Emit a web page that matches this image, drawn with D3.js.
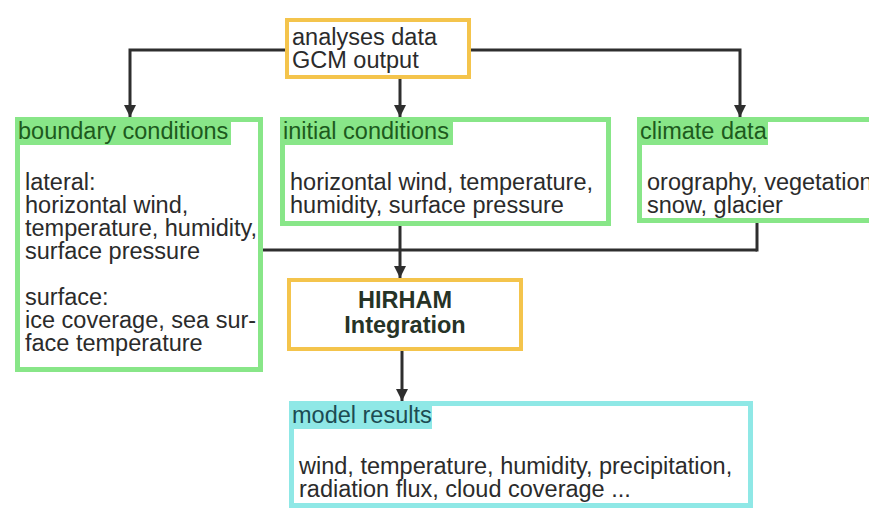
<!DOCTYPE html>
<html>
<head>
<meta charset="utf-8">
<script src="https://cdn.jsdelivr.net/npm/d3@7"></script>
<style>
  html, body { margin: 0; padding: 0; background: #fff; }
  svg { display: block; font-family: "Liberation Sans", Arial, sans-serif; }
</style>
</head>
<body>
<div id="chart"></div>
<script>
// diagram content
const sourceLines = ["analyses data", "GCM output"];
const coreLines = ["HIRHAM", "Integration"];
const panelIds = ["boundary", "initial", "climate", "results"];
const panelTitles = ["boundary conditions", "initial conditions", "climate data", "model results"];
const panelBodies = [
  ["lateral:", "horizontal wind,", "temperature, humidity,", "surface pressure", "", "surface:", "ice coverage, sea sur-", "face temperature"],
  ["horizontal wind, temperature,", "humidity, surface pressure"],
  ["orography, vegetation", "snow, glacier"],
  ["wind, temperature, humidity, precipitation,", "radiation flux, cloud coverage ..."]
];
// which box feeds which (last flag: ends in an arrowhead)
const links = [
  ["source", "boundary", true],
  ["source", "initial", true],
  ["source", "climate", true],
  ["initial", "hirham", true],
  ["boundary", "hirham", false],
  ["climate", "hirham", false],
  ["hirham", "results", true]
];

// layout (outer edges of each box)
const layout = {
  source:   { x0: 285, x1: 471, y0: 18,  y1: 79,  kind: "core" },
  boundary: { x0: 15,  x1: 263, y0: 117, y1: 372, kind: "input", band: 231 },
  initial:  { x0: 280, x1: 611, y0: 117, y1: 226, kind: "input", band: 453 },
  climate:  { x0: 637, x1: 890, y0: 117, y1: 223, kind: "input", band: 768 },
  hirham:   { x0: 287, x1: 523, y0: 278, y1: 351, kind: "core" },
  results:  { x0: 289, x1: 753, y0: 401, y1: 508, kind: "output", band: 432 }
};
const styles = {
  core:   { stroke: "#f4c44c", sw: 4, head: null },
  input:  { stroke: "#88e688", sw: 5, head: "#1d5a1d" },
  output: { stroke: "#8fe8e6", sw: 5, head: "#1c4b52" }
};

const W = 869, H = 509, fs = 23.5, lh = 23, bandH = 27;
const textCol = "#2b2b2b", lineCol = "#2e2e2e";

const svg = d3.select("#chart").append("svg")
  .attr("width", W).attr("height", H);

svg.append("defs").append("marker")
  .attr("id", "arrow")
  .attr("viewBox", "0 0 12 12")
  .attr("refX", 12).attr("refY", 6)
  .attr("markerWidth", 12).attr("markerHeight", 12)
  .attr("markerUnits", "userSpaceOnUse")
  .attr("orient", "auto")
  .append("path")
  .attr("d", "M0,0 L12,6 L0,12 Z")
  .attr("fill", lineCol);

// connectors
const mid = b => (layout[b].x0 + layout[b].x1) / 2;
const src = layout.source, hir = layout.hirham;
const busY = 250, tapX = 757, srcY = 50;
const routes = {
  "source-boundary": [[src.x0, srcY], [130, srcY], [130, layout.boundary.y0]],
  "source-initial":  [[400, src.y1], [400, layout.initial.y0]],
  "source-climate":  [[src.x1, srcY], [740, srcY], [740, layout.climate.y0]],
  "initial-hirham":  [[400, layout.initial.y1], [400, hir.y0]],
  "boundary-hirham": [[layout.boundary.x1, busY], [tapX, busY]],
  "climate-hirham":  [[tapX, layout.climate.y1], [tapX, busY + 1.5]],
  "hirham-results":  [[402, hir.y1], [402, layout.results.y0]]
};
const line = d3.line();
svg.append("g").selectAll("path")
  .data(links)
  .join("path")
  .attr("d", d => line(routes[d[0] + "-" + d[1]]))
  .attr("fill", "none")
  .attr("stroke", lineCol)
  .attr("stroke-width", 3)
  .attr("marker-end", d => d[2] ? "url(#arrow)" : null);

// boxes
const boxes = svg.append("g");
Object.entries(layout).forEach(([id, b]) => {
  const st = styles[b.kind];
  if (b.band) {
    boxes.append("rect")
      .attr("x", b.x0).attr("y", b.y0)
      .attr("width", b.band - b.x0).attr("height", bandH + 1)
      .attr("fill", st.stroke);
  }
  boxes.append("rect")
    .attr("x", b.x0 + st.sw / 2).attr("y", b.y0 + st.sw / 2)
    .attr("width", b.x1 - b.x0 - st.sw).attr("height", b.y1 - b.y0 - st.sw)
    .attr("fill", "none")
    .attr("stroke", st.stroke)
    .attr("stroke-width", st.sw);
});

// panel texts
panelIds.forEach((id, i) => {
  const b = layout[id], st = styles[b.kind];
  const g = svg.append("g");
  g.append("text")
    .attr("x", b.x0 + 3).attr("y", b.y0 + 22)
    .attr("font-size", fs)
    .attr("fill", st.head)
    .text(panelTitles[i]);
  g.selectAll("text.body")
    .data(panelBodies[i])
    .join("text")
    .attr("class", "body")
    .attr("x", b.x0 + 10)
    .attr("y", (d, j) => b.y0 + 73 + j * lh)
    .attr("font-size", fs)
    .attr("fill", textCol)
    .text(d => d);
});

// source box text
svg.append("g").selectAll("text")
  .data(sourceLines)
  .join("text")
  .attr("x", src.x0 + 7)
  .attr("y", (d, j) => src.y0 + 27 + j * lh)
  .attr("font-size", fs)
  .attr("fill", textCol)
  .text(d => d);

// model core text
svg.append("g").selectAll("text")
  .data(coreLines)
  .join("text")
  .attr("x", mid("hirham"))
  .attr("y", (d, j) => hir.y0 + 30 + j * 25)
  .attr("text-anchor", "middle")
  .attr("font-size", 23.5)
  .attr("font-weight", "bold")
  .attr("fill", "#263326")
  .text(d => d);
</script>
</body>
</html>
